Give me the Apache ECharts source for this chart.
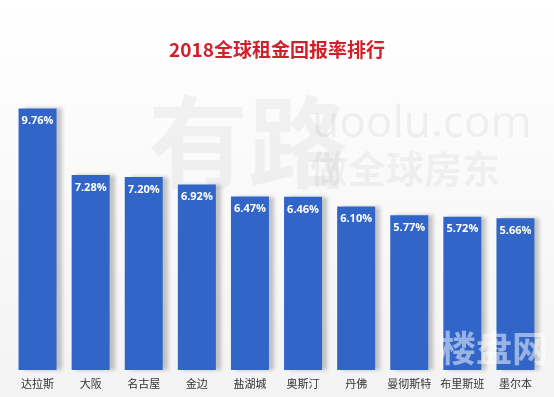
<!DOCTYPE html>
<html>
<head>
<meta charset="utf-8">
<script src="https://cdn.jsdelivr.net/npm/echarts@6/dist/echarts.min.js"></script>
<style>
  html, body { margin: 0; padding: 0; }
  #chart { width: 554px; height: 397px; }
</style>
</head>
<body>
<div id="chart"></div>
<script>
var cities = ['达拉斯', '大阪', '名古屋', '金边', '盐湖城', '奥斯汀', '丹佛', '曼彻斯特', '布里斯班', '墨尔本'];
var yields = [9.76, 7.28, 7.20, 6.92, 6.47, 6.46, 6.10, 5.77, 5.72, 5.66];

var chart = echarts.init(document.getElementById('chart'));
chart.setOption({
  backgroundColor: {
    type: 'linear', x: 0, y: 0, x2: 0, y2: 1,
    colorStops: [
      { offset: 0, color: '#ffffff' },
      { offset: 1, color: '#f3f3f3' }
    ]
  },
  title: {
    text: '2018全球租金回报率排行',
    left: 'center',
    top: 35,
    textStyle: {
      color: '#d0202a',
      fontSize: 19,
      fontWeight: 'bold',
      fontFamily: 'Noto Sans CJK SC'
    }
  },
  graphic: [
    {
      type: 'text', left: 148, top: 92, silent: true,
      style: { text: '有路', fill: 'rgba(0,0,0,0.045)', font: 'bold 100px "Noto Sans CJK SC"' }
    },
    {
      type: 'text', left: 312, top: 102, silent: true,
      style: { text: 'uoolu.com', fill: 'rgba(0,0,0,0.05)', font: '44px "Noto Sans"' }
    },
    {
      type: 'text', left: 310, top: 150, silent: true,
      style: { text: '做全球房东', fill: 'rgba(0,0,0,0.045)', font: 'bold 38px "Noto Sans CJK SC"' }
    },
    {
      type: 'text', left: 440, top: 330, silent: true, z: 100,
      style: { text: '楼盘网', fill: 'rgba(255,255,255,0.5)', font: 'bold 36px "Noto Sans CJK SC"' }
    }
  ],
  grid: { left: 11, right: 12, top: 102, bottom: 27, containLabel: false },
  xAxis: {
    type: 'category',
    data: cities,
    axisLine: { show: false },
    axisTick: { show: false },
    axisLabel: {
      color: '#333',
      fontSize: 11,
      margin: 8,
      interval: 0,
      fontFamily: 'Noto Sans CJK SC'
    }
  },
  yAxis: {
    type: 'value',
    min: 0,
    max: 10,
    show: false,
    splitLine: { show: false }
  },
  series: [{
    type: 'bar',
    data: yields,
    barWidth: 38,
    itemStyle: {
      color: '#3166c8',
      shadowColor: 'rgba(0,0,0,0.22)',
      shadowBlur: 4,
      shadowOffsetX: 5,
      shadowOffsetY: 0
    },
    label: {
      show: true,
      position: 'insideTop',
      distance: 7,
      color: '#ffffff',
      fontSize: 11,
      fontWeight: 'bold',
      fontFamily: 'Open Sans',
      formatter: function (p) { return p.value.toFixed(2) + '%'; }
    }
  }]
});
</script>
</body>
</html>
